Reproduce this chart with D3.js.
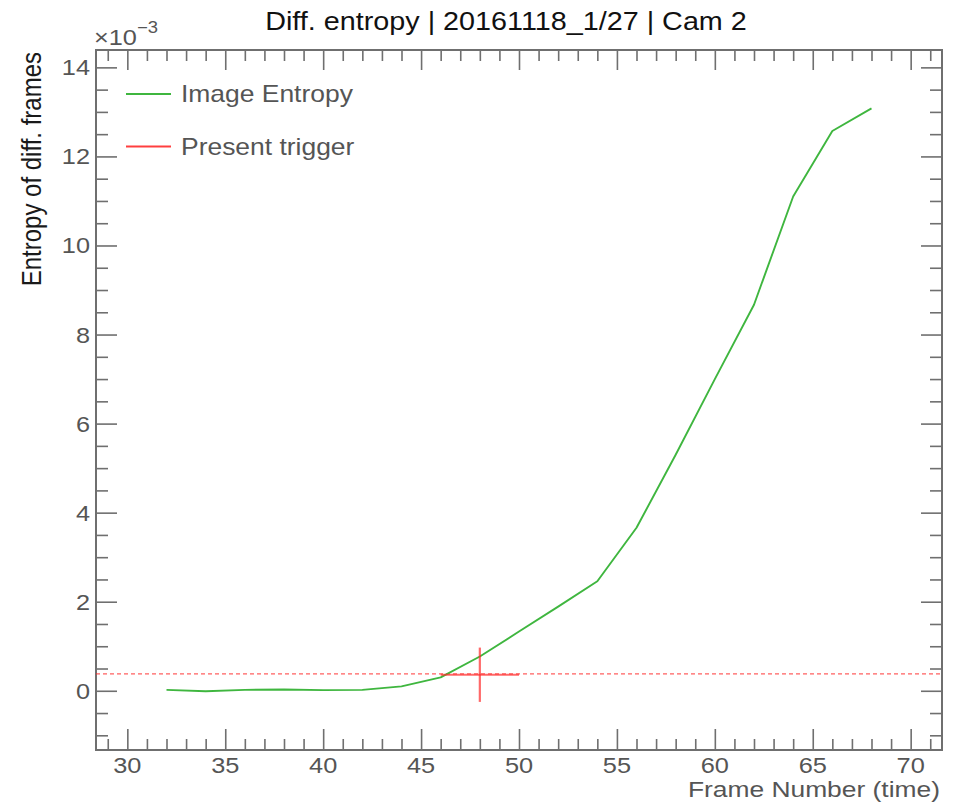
<!DOCTYPE html>
<html>
<head>
<meta charset="utf-8">
<script src="https://cdn.jsdelivr.net/npm/d3@7"></script>
<style>
  html, body { margin: 0; padding: 0; background: #fff; }
  svg { display: block; font-family: "Liberation Sans", Arial, Helvetica, sans-serif; }
</style>
</head>
<body>
<svg id="chart" width="954" height="802"></svg>
<script>
// Frame numbers and differential image entropy (in units of 1e-3)
const frames  = [32, 34, 36, 38, 40, 42, 44, 46, 48, 50, 52, 54, 56, 58, 60, 62, 64, 66, 68];
const entropy = [0.02, -0.01, 0.02, 0.03, 0.015, 0.02, 0.10, 0.30, 0.77, 1.33, 1.89, 2.46, 3.66, 5.30, 7.00, 8.67, 11.10, 12.57, 13.08];

// Trigger marker (frame ± error, entropy ± error) and threshold level
const triggerFrame = [48];
const triggerFrameErr = [2];
const triggerLevel = [0.36];
const triggerLevelErr = [0.61];
const thresholdLevel = [0.38];

// Axis tick labels
const xTickLabels = [30, 35, 40, 45, 50, 55, 60, 65, 70];
const yTickLabels = [0, 2, 4, 6, 8, 10, 12, 14];

const legendLabels = ["Image Entropy", "Present trigger"];
const titleText = "Diff. entropy | 20161118_1/27 | Cam 2";
const xTitle = "Frame Number (time)";
const yTitle = "Entropy of diff. frames";

// ---- layout ----
const frame = { left: 96, right: 942, top: 50, bottom: 750 };
const SX = 1.15;              // horizontal glyph stretch
const axisColor = "#6f6f6f";
const labelColor = "#555555";
const green = "#3fb63f";
const red = "#ff2a2a";

const svg = d3.select("#chart");

const x = d3.scaleLinear().domain([28.4, 71.6]).range([frame.left, frame.right]);
const y = d3.scaleLinear().domain([-1.33, 14.39]).range([frame.bottom, frame.top]);

function stretchedText(parent, tx, ty, txt, opts) {
  return parent.append("text")
    .attr("transform", `translate(${tx},${ty}) scale(${opts.sx || SX},1)` + (opts.rotate ? ` rotate(${opts.rotate})` : ""))
    .attr("font-size", opts.size)
    .attr("fill", opts.fill || labelColor)
    .attr("text-anchor", opts.anchor || "start")
    .text(txt);
}

// ---- ticks (drawn with d3 axes, labels added separately) ----
const xMinor = d3.range(29, 72, 1).filter(v => v % 5 !== 0);
const yMinor = d3.range(-1, 14.5, 0.5).filter(v => v % 2 !== 0);

function tickAxis(gen, values, size, transform) {
  const g = svg.append("g").attr("transform", transform)
    .call(gen.tickValues(values).tickSize(size).tickFormat(""));
  g.select(".domain").remove();
  g.selectAll(".tick line").attr("stroke", axisColor).attr("stroke-width", 1.6);
  return g;
}
// bottom & top
tickAxis(d3.axisBottom(x), xTickLabels, -21, `translate(0,${frame.bottom})`);
tickAxis(d3.axisBottom(x), xMinor, -11, `translate(0,${frame.bottom})`);
tickAxis(d3.axisTop(x), xTickLabels, -20, `translate(0,${frame.top})`);
tickAxis(d3.axisTop(x), xMinor, -11, `translate(0,${frame.top})`);
// left & right
tickAxis(d3.axisLeft(y), yTickLabels, -21, `translate(${frame.left},0)`);
tickAxis(d3.axisLeft(y), yMinor, -12, `translate(${frame.left},0)`);
tickAxis(d3.axisRight(y), yTickLabels, -21, `translate(${frame.right},0)`);
tickAxis(d3.axisRight(y), yMinor, -12, `translate(${frame.right},0)`);

// frame
svg.append("rect")
  .attr("x", frame.left).attr("y", frame.top)
  .attr("width", frame.right - frame.left).attr("height", frame.bottom - frame.top)
  .attr("fill", "none").attr("stroke", axisColor).attr("stroke-width", 2);

// tick labels
xTickLabels.forEach(v => stretchedText(svg, x(v), 772.5, String(v), { size: 21.5, anchor: "middle", sx: 1.18 }));
yTickLabels.forEach(v => stretchedText(svg, 90, y(v) + 8, String(v), { size: 22, anchor: "end" }));

// exponent marker
stretchedText(svg, 94, 45, "\u00d710", { size: 22 });
stretchedText(svg, 137, 33, "\u22123", { size: 16 });

// axis titles
stretchedText(svg, 940, 797, xTitle, { size: 22, anchor: "end", sx: 1.2 });
stretchedText(svg, 41, 52, yTitle, { size: 24, anchor: "end", rotate: -90, fill: "#1a1a1a" });

// title
stretchedText(svg, 506, 30, titleText, { size: 25, anchor: "middle", fill: "#111" });

// ---- data ----
svg.append("clipPath").attr("id", "plotClip")
  .append("rect").attr("x", frame.left).attr("y", frame.top)
  .attr("width", frame.right - frame.left).attr("height", frame.bottom - frame.top);

const plot = svg.append("g").attr("clip-path", "url(#plotClip)");

// threshold (dashed)
plot.append("line")
  .attr("x1", frame.left).attr("x2", frame.right)
  .attr("y1", y(thresholdLevel[0])).attr("y2", y(thresholdLevel[0]))
  .attr("stroke", red).attr("stroke-opacity", 0.75).attr("stroke-width", 1.2)
  .attr("stroke-dasharray", "4,3");

// entropy curve
const line = d3.line().x((d, i) => x(frames[i])).y(d => y(d));
plot.append("path")
  .datum(entropy)
  .attr("d", line)
  .attr("fill", "none")
  .attr("stroke", green)
  .attr("stroke-width", 1.9)
  .attr("stroke-linejoin", "round");

// trigger cross
triggerFrame.forEach((f, i) => {
  const cy = y(triggerLevel[i]);
  plot.append("line")
    .attr("x1", x(f - triggerFrameErr[i])).attr("x2", x(f + triggerFrameErr[i]))
    .attr("y1", cy).attr("y2", cy)
    .attr("stroke", red).attr("stroke-opacity", 0.7).attr("stroke-width", 2.2);
  plot.append("line")
    .attr("x1", x(f)).attr("x2", x(f))
    .attr("y1", y(triggerLevel[i] + triggerLevelErr[i])).attr("y2", y(triggerLevel[i] - triggerLevelErr[i]))
    .attr("stroke", red).attr("stroke-opacity", 0.7).attr("stroke-width", 2.2);
});

// ---- legend ----
const legendColors = [green, red];
legendLabels.forEach((lab, i) => {
  const ly = 94 + i * 52.5;
  svg.append("line")
    .attr("x1", 126).attr("x2", 171).attr("y1", ly).attr("y2", ly)
    .attr("stroke", legendColors[i]).attr("stroke-width", 1.8)
    .attr("stroke-opacity", i === 1 ? 0.9 : 1);
  stretchedText(svg, 181, ly + 8, lab, { size: 23 });
});
</script>
</body>
</html>
